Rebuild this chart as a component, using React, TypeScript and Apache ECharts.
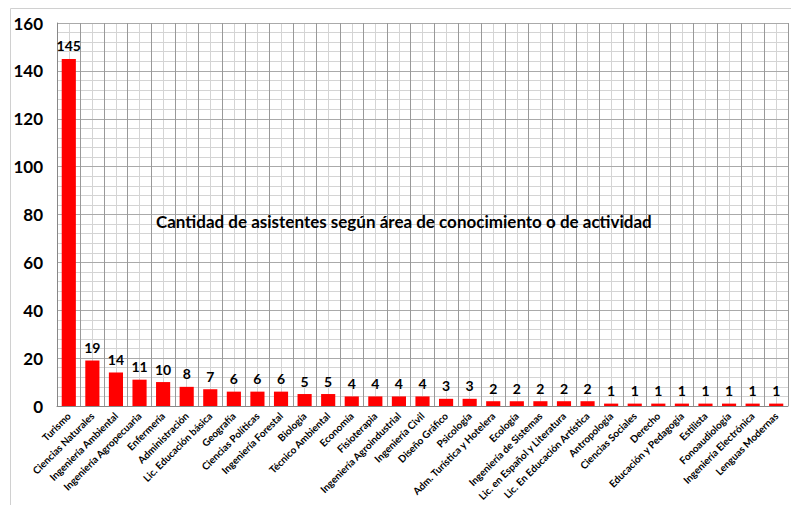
import React, { useEffect, useRef } from "react";
import * as echarts from "echarts";

const categories = [
  "Turismo", "Ciencias Naturales", "Ingeniería Ambiental", "Ingeniería Agropecuaria", "Enfermería",
  "Administración", "Lic. Educación básica", "Geografía", "Ciencias Políticas", "Ingeniería Forestal",
  "Biología", "Técnico Ambiental", "Economía", "Fisioterapia", "Ingeniería Agroindustrial",
  "Ingeniería Civil", "Diseño Gráfico", "Psicología", "Adm. Turística y Hotelera", "Ecología",
  "Ingeniería de Sistemas", "Lic. en Español y Literatura", "Lic. En Educación Artística", "Antropología",
  "Ciencias Sociales", "Derecho", "Educación y Pedagogía", "Estilista", "Fonoaudiología",
  "Ingeniería Electrónica", "Lenguas Modernas",
];
const values = [145, 19, 14, 11, 10, 8, 7, 6, 6, 6, 5, 5, 4, 4, 4, 4, 3, 3, 2, 2, 2, 2, 2, 1, 1, 1, 1, 1, 1, 1, 1];
const yTicks = { min: 0, max: 160, interval: 20 };
const chartTitle = "Cantidad de asistentes según área de conocimiento o de actividad";

const FONT = "Lato, 'Open Sans', sans-serif";

export default function App() {
  const ref = useRef<HTMLDivElement>(null);
  useEffect(() => {
    if (!ref.current) return;
    const chart = echarts.init(ref.current, null, { renderer: "svg" });
    chart.setOption({
      animation: false,
      backgroundColor: "#fff",
      textStyle: { fontFamily: FONT },
      graphic: [
        {
          type: "rect",
          shape: { x: 10.5, y: 8.5, width: 790, height: 505 },
          style: { fill: "none", stroke: "#d0d0d0", lineWidth: 1 },
          silent: true,
          z: -10,
        },
        {
          type: "text",
          left: 156,
          top: 213,
          style: { text: chartTitle, font: `bold 17px ${FONT}`, fill: "#000" },
          z: 100,
        },
      ],
      grid: { left: 57, right: 3, top: 23, bottom: 99, containLabel: false },
      xAxis: [
        {
          type: "category",
          data: categories,
          axisLine: { lineStyle: { color: "#888", width: 1 } },
          axisTick: { show: false },
          splitLine: { show: true, lineStyle: { color: "#999", width: 1 } },
          axisLabel: {
            rotate: 45,
            interval: 0,
            fontSize: 10,
            fontWeight: "bold",
            color: "#000",
            margin: 8,
            fontFamily: FONT,
          },
        },
        {
          type: "value",
          min: 0,
          max: categories.length,
          interval: 0.5,
          position: "bottom",
          axisLine: { show: false },
          axisTick: { show: false },
          axisLabel: { show: false },
          splitLine: { show: true, lineStyle: { color: "#d4d4d4", width: 1 } },
          z: -1,
        },
      ],
      yAxis: {
        type: "value",
        min: yTicks.min,
        max: yTicks.max,
        interval: yTicks.interval,
        axisLine: { show: true, lineStyle: { color: "#888" } },
        axisTick: { show: false },
        axisLabel: { fontSize: 17, fontWeight: "bold", color: "#000", margin: 14, fontFamily: FONT },
        splitLine: { show: true, lineStyle: { color: "#aaa", width: 1 } },
        minorTick: { show: false, splitNumber: 5 },
        minorSplitLine: { show: true, lineStyle: { color: "#d4d4d4", width: 1 } },
      },
      series: [
        {
          type: "bar",
          data: values,
          xAxisIndex: 0,
          barWidth: "60%",
          itemStyle: { color: "#ff0000" },
          label: {
            show: true,
            position: "top",
            distance: 6,
            fontSize: 14,
            fontWeight: "bold",
            color: "#000",
            fontFamily: FONT,
          },
        },
      ],
    });
    return () => chart.dispose();
  }, []);
  return <div ref={ref} style={{ width: 791, height: 505, position: "absolute", left: 0, top: 0 }} />;
}
